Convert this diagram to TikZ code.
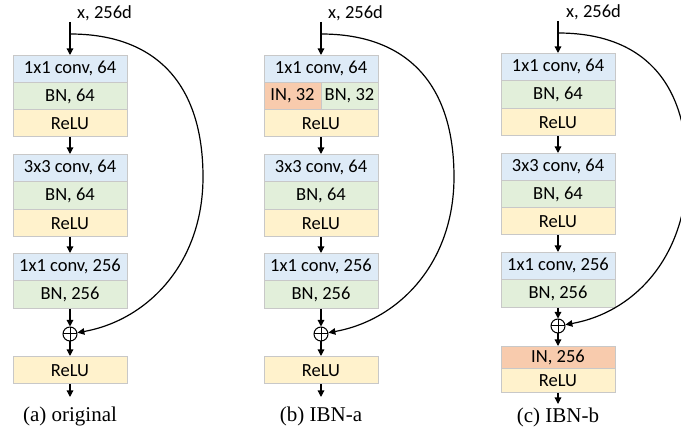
\documentclass[tikz,border=0pt]{standalone}
\usepackage{fontspec}
\setmainfont{Carlito}
\newfontfamily\capfont{Liberation Serif}
\usetikzlibrary{arrows.meta}
\definecolor{convc}{HTML}{DEEBF7}
\definecolor{bnc}{HTML}{E2EFDA}
\definecolor{reluc}{HTML}{FFF2CC}
\definecolor{inc}{HTML}{F8CBAD}
\definecolor{bordc}{HTML}{C8C8C8}
\begin{document}
\begin{tikzpicture}[x=1pt,y=-1pt,
  blk/.style={draw=bordc, line width=0.8pt, minimum width=114pt, anchor=north, inner sep=0pt, font=\fontsize{18.5}{21}\selectfont},
  conv/.style={blk, fill=convc, minimum height=27pt},
  bn/.style={blk, fill=bnc, minimum height=27.5pt},
  relu/.style={blk, fill=reluc, minimum height=27.5pt},
  inn/.style={blk, fill=inc, minimum height=27pt},
  arr/.style={line width=1.2pt, -{Triangle[length=6.5pt,width=6.5pt]}},
  skip/.style={line width=1.2pt, -{Triangle[length=7pt,width=6.5pt]}},
  sumnode/.style={circle, draw, line width=1pt, minimum size=14pt, inner sep=0pt,
    path picture={\draw[line width=1pt] (path picture bounding box.north) -- (path picture bounding box.south) (path picture bounding box.west) -- (path picture bounding box.east);}},
  inlabel/.style={anchor=base west, inner sep=0pt, font=\fontsize{18.5}{21}\selectfont},
  caption/.style={anchor=base, inner sep=0pt, font=\capfont\fontsize{21}{24}\selectfont}
]
\useasboundingbox (0,0) rectangle (681,435);
\begin{scope}
\clip (0,0) rectangle (681,435);
% ---------------- (a) original
\node[inlabel] (axl) at (77,19) {x, 256d};
\coordinate (ain) at (70,22);
\coordinate (asp) at (70,34);
\node[conv] (a1) at (70,55) {1x1 conv, 64};
\node[bn] (a2) at (70,82) {BN, 64};
\node[relu] (a3) at (70,109) {ReLU};
\node[conv] (a4) at (70,154) {3x3 conv, 64};
\node[bn] (a5) at (70,181.5) {BN, 64};
\node[relu] (a6) at (70,209) {ReLU};
\node[conv] (a7) at (70,253) {1x1 conv, 256};
\node[bn] (a8) at (70,280.5) {BN, 256};
\node[sumnode] (pa) at (70,334) {};
\node[relu] (a9) at (70,356) {ReLU};
\coordinate (aout) at (70,397);
\draw[arr] (ain) -- (a1.north);
\draw[arr] (a3.south) -- (a4.north);
\draw[arr] (a6.south) -- (a7.north);
\draw[arr] (a8.south) -- (pa.north);
\draw[arr] (pa.south) -- (a9.north);
\draw[arr] (a9.south) -- (aout);
\draw[skip] (asp) .. controls (156,34) and (203,84) .. (203,177) .. controls (203,263) and (148,320) .. (pa.10);
\node[caption] (acap) at (70,422) {(a) original};
% ---------------- (b) IBN-a
\node[inlabel] (bxl) at (328,19) {x, 256d};
\coordinate (bin) at (321,22);
\coordinate (bsp) at (321,34);
\node[conv] (b1) at (321,55) {1x1 conv, 64};
\node[blk, fill=inc, minimum width=57pt, minimum height=27pt] (b2i) at (292.5,82) {IN, 32};
\node[blk, fill=bnc, minimum width=57pt, minimum height=27pt] (b2b) at (349.5,82) {BN, 32};
\node[relu] (b3) at (321,109) {ReLU};
\node[conv] (b4) at (321,154) {3x3 conv, 64};
\node[bn] (b5) at (321,181.5) {BN, 64};
\node[relu] (b6) at (321,209) {ReLU};
\node[conv] (b7) at (321,253) {1x1 conv, 256};
\node[bn] (b8) at (321,280.5) {BN, 256};
\node[sumnode] (pb) at (321,334) {};
\node[relu] (b9) at (321,356) {ReLU};
\coordinate (bout) at (321,397);
\draw[arr] (bin) -- (b1.north);
\draw[arr] (b3.south) -- (b4.north);
\draw[arr] (b6.south) -- (b7.north);
\draw[arr] (b8.south) -- (pb.north);
\draw[arr] (pb.south) -- (b9.north);
\draw[arr] (b9.south) -- (bout);
\draw[skip] (bsp) .. controls (407,34) and (454,84) .. (454,177) .. controls (454,263) and (399,320) .. (pb.10);
\node[caption] (bcap) at (321,422) {(b) IBN-a};
% ---------------- (c) IBN-b
\node[inlabel] (cxl) at (566,18) {x, 256d};
\coordinate (cin) at (558,21);
\coordinate (csp) at (558,33);
\node[conv] (c1) at (558,53) {1x1 conv, 64};
\node[bn] (c2) at (558,80.5) {BN, 64};
\node[relu] (c3) at (558,108) {ReLU};
\node[conv] (c4) at (558,153) {3x3 conv, 64};
\node[bn] (c5) at (558,180) {BN, 64};
\node[relu] (c6) at (558,207) {ReLU};
\node[conv] (c7) at (558,252) {1x1 conv, 256};
\node[bn] (c8) at (558,279.5) {BN, 256};
\node[sumnode] (pc) at (558,326) {};
\node[inn, minimum height=22pt] (c9) at (558,346) {IN, 256};
\node[relu, minimum height=24pt] (c10) at (558,368) {ReLU};
\coordinate (cout) at (558,404);
\draw[arr] (cin) -- (c1.north);
\draw[arr] (c3.south) -- (c4.north);
\draw[arr] (c6.south) -- (c7.north);
\draw[arr] (c8.south) -- (pc.north);
\draw[arr] (pc.south) -- (c9.north);
\draw[arr] (c10.south) -- (cout);
\draw[skip] (csp) .. controls (642,33) and (687,81) .. (687,170) .. controls (687,255) and (636,312) .. (pc.10);
\node[caption] (ccap) at (558,423) {(c) IBN-b};
\end{scope}
\end{tikzpicture}
\end{document}
